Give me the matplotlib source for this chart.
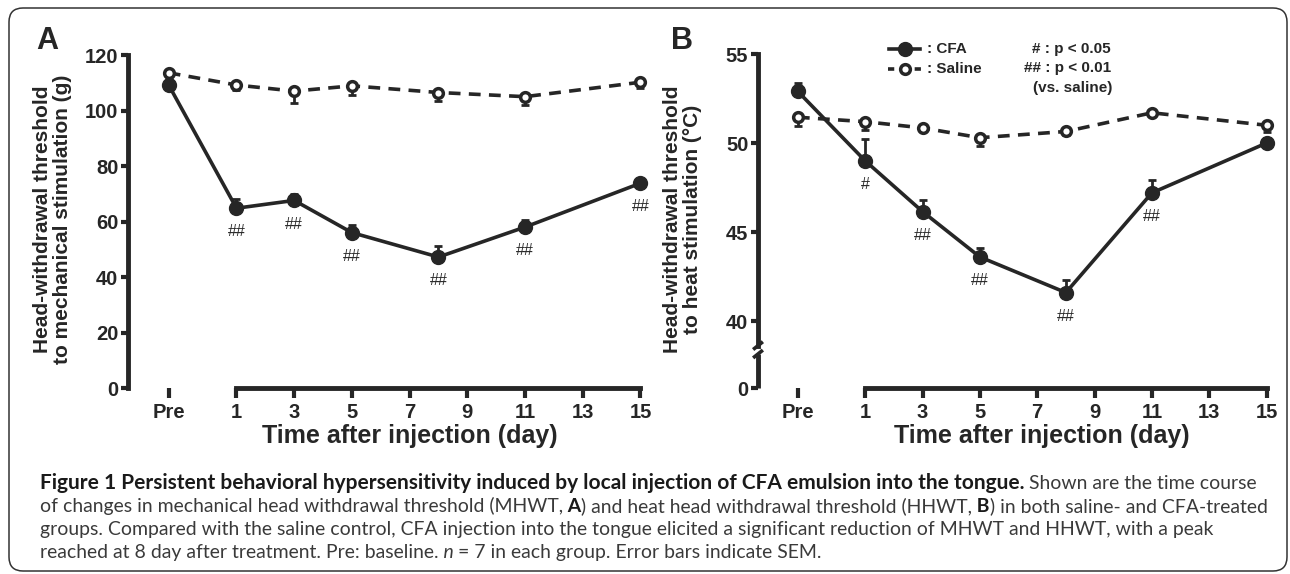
import matplotlib
matplotlib.use('Agg')
import matplotlib.pyplot as plt
from matplotlib.patches import FancyBboxPatch
from matplotlib.lines import Line2D

W, H = 1290, 574
plt.rcParams['font.family'] = ['Liberation Sans', 'DejaVu Sans']
plt.rcParams['lines.scale_dashes'] = False
ink = '#262626'

# ---- data ----
days = ['Pre', 1, 3, 5, 8, 11, 15]
xtick_days = [1, 3, 5, 7, 9, 11, 13, 15]
pre_pos = -1.35  # where "Pre" sits on the day axis

mech_cfa = [109.2, 64.8, 67.6, 56.0, 47.2, 58.0, 73.8]
mech_cfa_sem = [1.5, 3.3, 2.5, 2.8, 4.0, 2.4, 1.5]
mech_sal = [113.6, 109.2, 107.0, 108.9, 106.5, 105.0, 110.2]
mech_sal_sem = [1.5, 1.8, 4.2, 3.3, 3.2, 3.0, 2.0]
mech_sig = ['', '##', '##', '##', '##', '##', '##']
mech_yticks = [0, 20, 40, 60, 80, 100, 120]

heat_cfa = [52.9, 49.0, 46.15, 43.6, 41.6, 47.2, 50.0]
heat_cfa_sem = [0.45, 1.25, 0.65, 0.5, 0.7, 0.7, 0.3]
heat_sal = [51.45, 51.2, 50.85, 50.3, 50.65, 51.7, 51.0]
heat_sal_sem = [0.5, 0.45, 0.2, 0.45, 0.2, 0.2, 0.4]
heat_sig = ['', '#', '##', '##', '##', '##', '']
heat_yticks = [40, 45, 50, 55]

fig = plt.figure(figsize=(W / 100, H / 100), dpi=100)


def px_axes(x0, y0, x1, y1):
    return fig.add_axes([x0 / W, 1 - y1 / H, (x1 - x0) / W, (y1 - y0) / H])


def fx(x):
    return x / W


def fy(y):
    return 1 - y / H


def draw_panel(ax, cfa, cfa_sem, sal, sal_sem, sig):
    xs = [pre_pos if d == 'Pre' else d for d in days]
    zeros = [0] * len(xs)
    ax.errorbar(xs, sal, yerr=[sal_sem, zeros], fmt='none', ecolor=ink,
                elinewidth=2, capsize=3, capthick=2, zorder=2, clip_on=False)
    ax.errorbar(xs, cfa, yerr=[zeros, cfa_sem], fmt='none', ecolor=ink,
                elinewidth=2, capsize=3, capthick=2, zorder=2, clip_on=False)
    ax.plot(xs, cfa, color=ink, lw=2.6, marker='o', ms=10, mfc=ink, mec=ink,
            zorder=3, clip_on=False)
    ax.plot(xs, sal, color=ink, lw=2.6, dashes=(8.5, 6), marker='o', ms=7,
            mfc='white', mec=ink, mew=2.5, zorder=4, clip_on=False)
    for x, y, s in zip(xs, cfa, sig):
        if s:
            ax.annotate(s, (x, y), xytext=(0, -17), textcoords='offset points',
                        ha='center', va='center', fontsize=11.5, color=ink)

    ax.set_facecolor('none')
    for side in ['top', 'right']:
        ax.spines[side].set_visible(False)
    for side in ['left', 'bottom']:
        ax.spines[side].set_linewidth(3.5)
        ax.spines[side].set_color(ink)
    ax.spines['bottom'].set_bounds(1, 15)
    ax.set_xticks([pre_pos] + xtick_days)
    ax.set_xticklabels(['Pre'] + [str(d) for d in xtick_days])
    ax.tick_params(axis='x', length=7.5, width=3, pad=3.5, color=ink)
    ax.tick_params(axis='y', length=5, width=3, pad=2, color=ink)
    ax.tick_params(labelsize=14.5, labelcolor=ink)
    for lab in ax.get_xticklabels() + ax.get_yticklabels():
        lab.set_fontweight('bold')


# ---- panel A ----
axA = px_axes(128, 49.5, 652, 388)
axA.set_xlim(-2.76, 15.4)
axA.set_ylim(0, 122)
draw_panel(axA, mech_cfa, mech_cfa_sem, mech_sal, mech_sal_sem, mech_sig)
axA.spines['left'].set_bounds(0, 120)
axA.set_yticks(mech_yticks)
for lab in axA.get_yticklabels():
    lab.set_fontweight('bold')

# ---- panel B (broken y axis: 0 shown below the break) ----
b_bottom = 36.24
axB = px_axes(758, 48.7, 1278, 388)
axB.set_xlim(-2.74, 15.4)
axB.set_ylim(b_bottom, 55.3)
draw_panel(axB, heat_cfa, heat_cfa_sem, heat_sal, heat_sal_sem, heat_sig)
axB.spines['left'].set_bounds(38.62, 55)
axB.set_yticks([b_bottom] + heat_yticks)
axB.set_yticklabels(['0'] + [str(v) for v in heat_yticks])
for lab in axB.get_yticklabels():
    lab.set_fontweight('bold')
xl = -2.74
axB.plot([xl, xl], [b_bottom, 38.15], color=ink, lw=3.5, clip_on=False,
         solid_capstyle='butt')
for yb in [38.62, 38.15]:
    axB.plot([xl - 0.17, xl + 0.17], [yb - 0.22, yb + 0.22], color=ink, lw=2.6,
             clip_on=False, solid_capstyle='butt')

# ---- axis titles ----
ylab_kw = dict(rotation=90, ha='center', va='center', ma='center',
               fontsize=15, fontweight='bold', linespacing=1.05, color=ink)
fig.text(fx(52.5), fy(219), 'Head-withdrawal threshold\nto mechanical stimulation (g)', **ylab_kw)
fig.text(fx(682.5), fy(219), 'Head-withdrawal threshold\nto heat stimulation (\u00b0C)', **ylab_kw)
xlab_kw = dict(ha='center', va='center', fontsize=18, fontweight='bold', color=ink)
fig.text(fx(410), fy(436), 'Time after injection (day)', **xlab_kw)
fig.text(fx(1042), fy(436), 'Time after injection (day)', **xlab_kw)
fig.text(fx(47), fy(41), 'A', ha='center', va='center', fontsize=22, fontweight='bold', color=ink)
fig.text(fx(682), fy(41), 'B', ha='center', va='center', fontsize=22, fontweight='bold', color=ink)

# ---- legend ----
fig.add_artist(Line2D([fx(889), fx(920)], [fy(49), fy(49)], color=ink, lw=2.6))
fig.add_artist(Line2D([fx(904.5)], [fy(49)], marker='o', ms=10, mfc=ink, mec=ink))
fig.add_artist(Line2D([fx(888), fx(921)], [fy(69), fy(69)], color=ink, lw=2.6,
                      dashes=(4.5, 14.7)))
fig.add_artist(Line2D([fx(904.5)], [fy(69)], marker='o', ms=7, mfc='white', mec=ink, mew=2.5))
leg_kw = dict(va='center', fontsize=11, fontweight='bold', color=ink)
fig.text(fx(927), fy(49), ': CFA', **leg_kw)
fig.text(fx(927), fy(69), ': Saline', **leg_kw)
fig.text(fx(1111), fy(49), '# : p < 0.05', ha='right', **leg_kw)
fig.text(fx(1111), fy(68), '## : p < 0.01', ha='right', **leg_kw)
fig.text(fx(1112), fy(88), '(vs. saline)', ha='right', **leg_kw)

# ---- frame ----
frame = FancyBboxPatch((0.09, 0.03), 12.78, 5.63, boxstyle='round,pad=0,rounding_size=0.14',
                       transform=fig.dpi_scale_trans, fill=False, ec='#333333', lw=1.1)
fig.add_artist(frame)

# ---- caption ----
cap_font = ['Lato', 'DejaVu Sans']
cap_x0 = 40
renderer = fig.canvas.get_renderer()
title_run = 'Figure 1 Persistent behavioral hypersensitivity induced by local injection of CFA emulsion into the tongue.'
title_tail = ' Shown are the time course'
lines = [
    [(title_run, 'bold', 'normal'),
     (title_tail, 'normal', 'normal')],
    [('of changes in mechanical head withdrawal threshold (MHWT,', 'normal', 'normal'),
     (' A', 'bold', 'normal'),
     (') and heat head withdrawal threshold (HHWT,', 'normal', 'normal'),
     (' B', 'bold', 'normal'),
     (') in both saline- and CFA-treated', 'normal', 'normal')],
    [('groups. Compared with the saline control, CFA injection into the tongue elicited a significant reduction of MHWT and HHWT, with a peak', 'normal', 'normal')],
    [('reached at 8 day after treatment. Pre: baseline.', 'normal', 'normal'),
     (' n', 'normal', 'italic'),
     (' = 7 in each group. Error bars indicate SEM.', 'normal', 'normal')],
]


def text_width(s, size, weight):
    probe = fig.text(0, 0, s, fontsize=size, fontweight=weight, family=cap_font)
    w = probe.get_window_extent(renderer=renderer).width
    probe.remove()
    return w


# fit sizes so line ends match the original (line 3 ends at 1207, line 1 at 1258)
cap_size = 13 * (1207 - cap_x0) / text_width(lines[2][0][0], 13, 'normal')
tail_w = text_width(title_tail, cap_size, 'normal')
title_size = 13 * (1258 - cap_x0 - tail_w) / text_width(title_run, 13, 'bold')

baselines = [489, 512, 535, 558]
for yb, runs in zip(baselines, lines):
    x = cap_x0
    for txt, weight, style in runs:
        size = title_size if txt == title_run else cap_size
        t = fig.text(fx(x), fy(yb), txt, fontsize=size, fontweight=weight,
                     fontstyle=style, family=cap_font, va='baseline',
                     color='#1a1a1a' if weight == 'bold' else '#3a3a3a')
        x = t.get_window_extent(renderer=renderer).x1

fig.savefig('out.png', dpi=100)
